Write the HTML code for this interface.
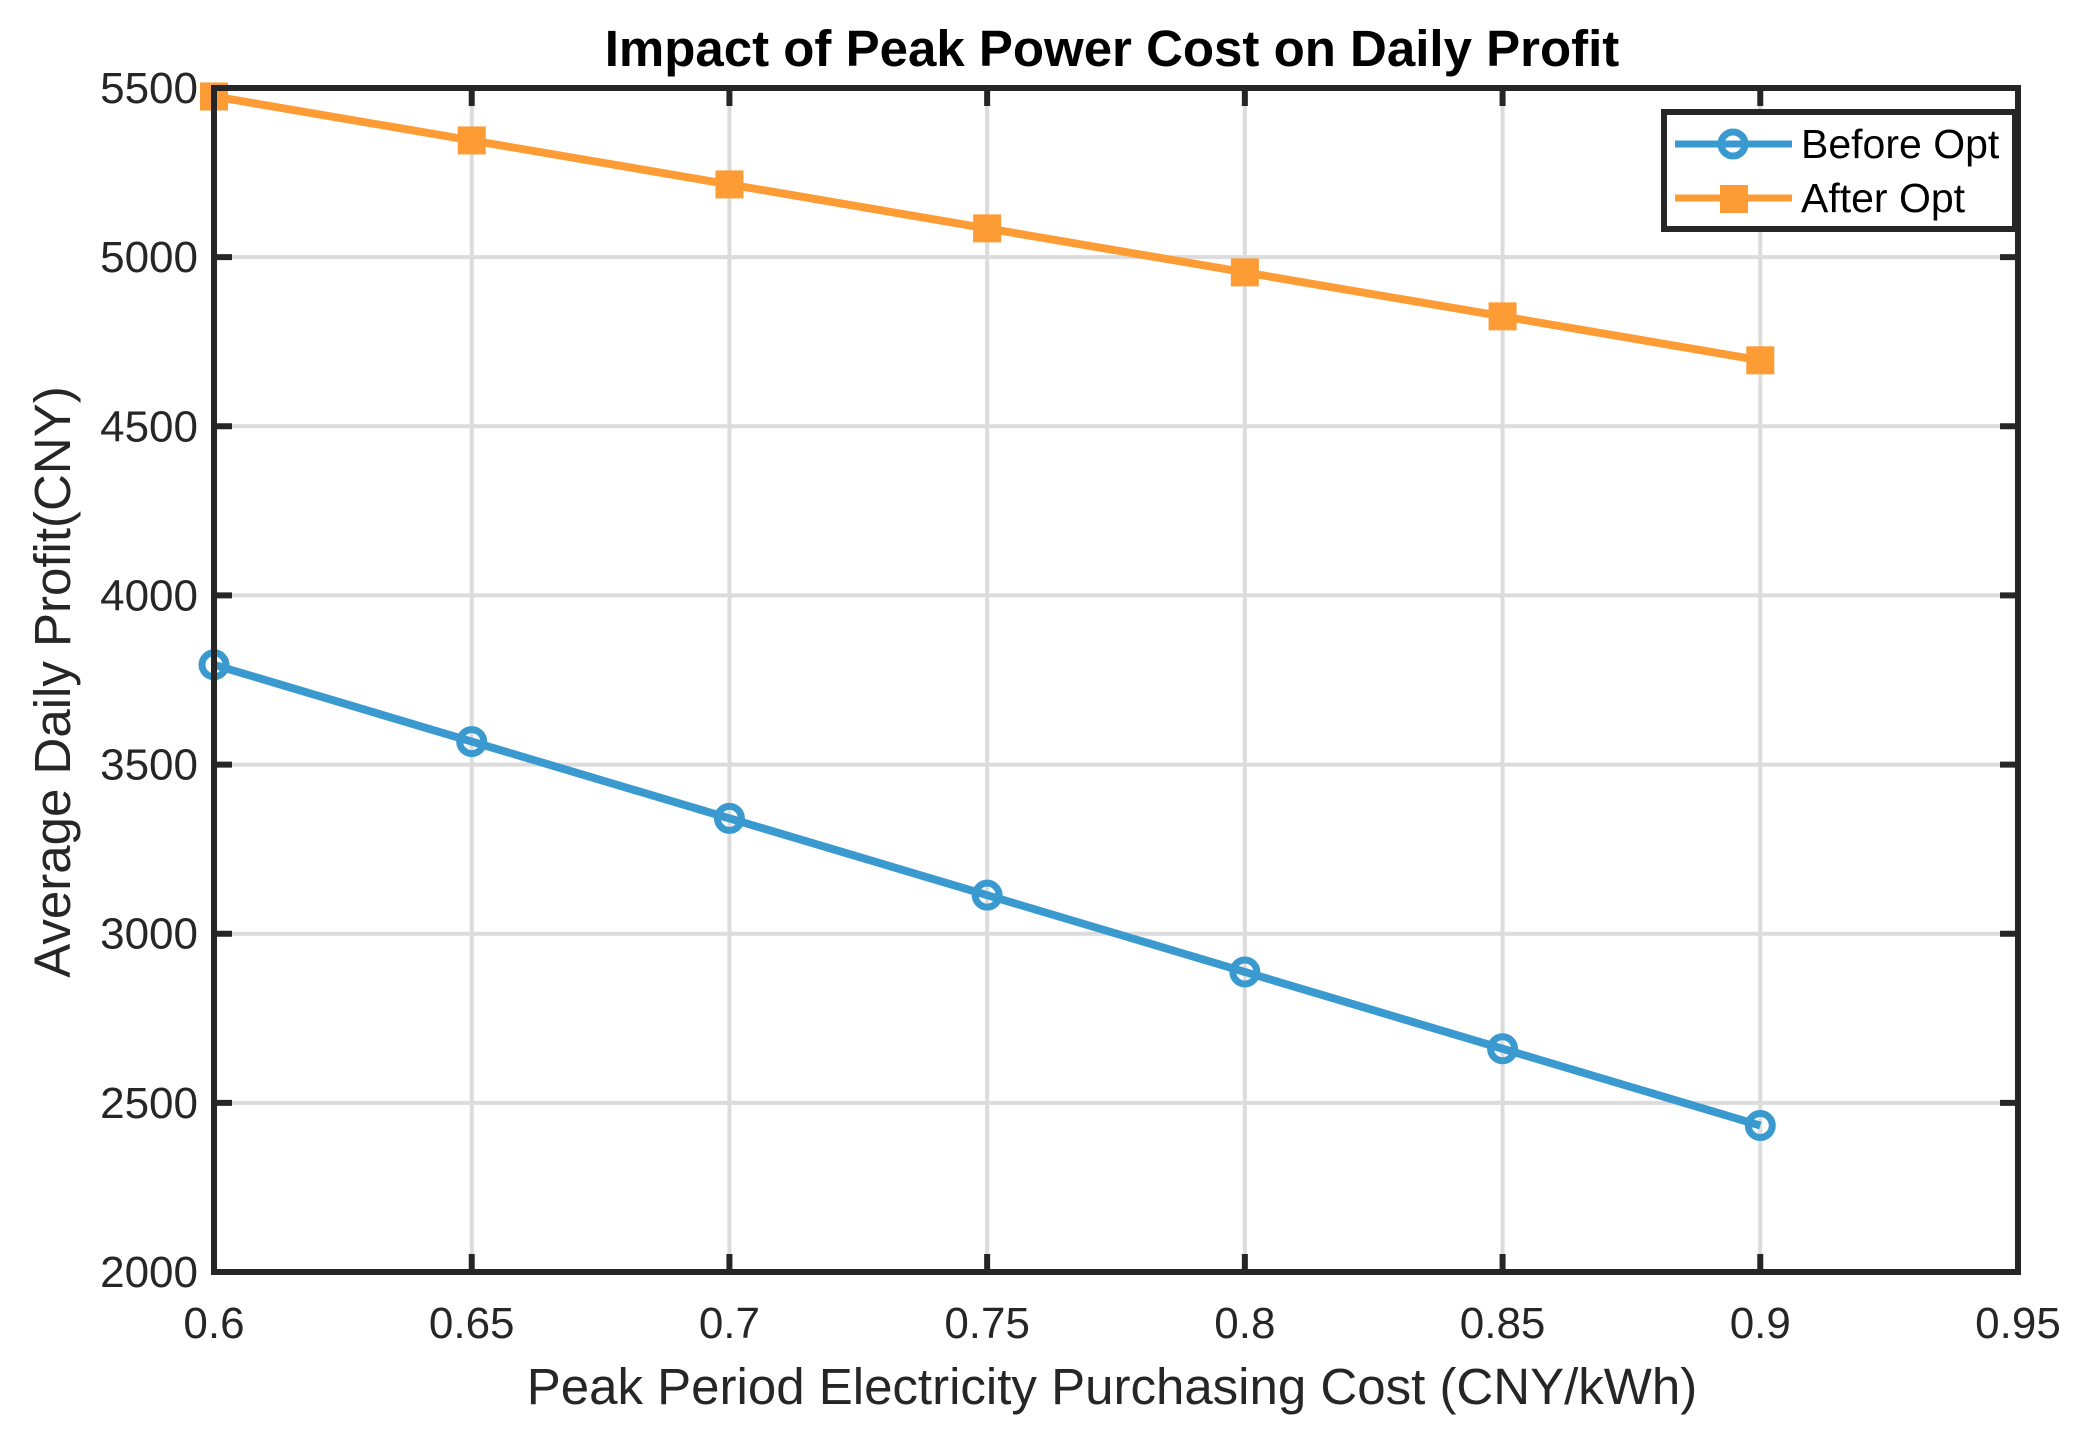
<!DOCTYPE html>
<html><head><meta charset="utf-8"><style>
html,body{margin:0;padding:0;background:#fff}
svg{display:block}
text{font-family:"Liberation Sans",Arial,sans-serif;fill:#262626}
</style></head><body>
<svg id="chart" width="2088" height="1442" viewBox="0 0 2088 1442" xmlns="http://www.w3.org/2000/svg">
<rect width="2088" height="1442" fill="#fff"/>
<g id="grid"></g>
<g id="series"></g>
<g id="axes"></g>
<text x="1112" y="66" text-anchor="middle" font-size="51" font-weight="bold" style="fill:#000">Impact of  Peak Power Cost on Daily Profit</text>
<text x="1112" y="1404" text-anchor="middle" font-size="51">Peak Period Electricity Purchasing Cost (CNY/kWh)</text>
<text transform="translate(70,682) rotate(-90)" text-anchor="middle" font-size="51">Average Daily Profit(CNY)</text>
<g>
<rect x="1664" y="112" width="351" height="117" fill="#fff" stroke="#262626" stroke-width="6"/>
<line x1="1675" y1="144" x2="1792" y2="144" stroke="#3a9ad0" stroke-width="7"/>
<circle cx="1733" cy="144" r="12" fill="none" stroke="#3a9ad0" stroke-width="7"/>
<text x="1801" y="158" font-size="41" style="fill:#000">Before Opt</text>
<line x1="1675" y1="198" x2="1792" y2="198" stroke="#fd9b35" stroke-width="7"/>
<rect x="1720" y="185" width="28" height="28" fill="#fd9b35"/>
<text x="1801" y="212" font-size="41" style="fill:#000">After Opt</text>
</g>
</svg>
<script>
const xValues=[0.6,0.65,0.7,0.75,0.8,0.85,0.9];
const beforeOpt=[3795,3568,3341,3114,2887,2660,2433];
const afterOpt=[5475,5345,5215,5085,4955,4825,4695];
const xTicks=[0.6,0.65,0.7,0.75,0.8,0.85,0.9,0.95];
const xTickLabels=["0.6","0.65","0.7","0.75","0.8","0.85","0.9","0.95"];
const yTicks=[2000,2500,3000,3500,4000,4500,5000,5500];
const L=214,R=2018,T=88,B=1272;
const xs=v=>L+(v-0.6)/(0.95-0.6)*(R-L);
const ys=v=>B-(v-2000)/(5500-2000)*(B-T);
const NS="http://www.w3.org/2000/svg";
function mk(p,tag,a){const e=document.createElementNS(NS,tag);for(const k in a)e.setAttribute(k,a[k]);p.appendChild(e);return e;}
const grid=document.getElementById('grid'),axes=document.getElementById('axes'),ser=document.getElementById('series');
xTicks.forEach((t,i)=>{const x=xs(t);
 const g=mk(grid,'line',{x1:x,y1:T,x2:x,y2:B,stroke:'#dcdcdc','stroke-width':4});
 
 
 mk(axes,'line',{x1:x,y1:B,x2:x,y2:B-18,stroke:'#262626','stroke-width':6});
 mk(axes,'line',{x1:x,y1:T,x2:x,y2:T+18,stroke:'#262626','stroke-width':6});
 const tx=mk(axes,'text',{x:x,y:1338,'text-anchor':'middle','font-size':44});
 tx.textContent=xTickLabels[i];
 
 
});
yTicks.forEach(t=>{const y=ys(t);
 const g=mk(grid,'line',{x1:L,y1:y,x2:R,y2:y,stroke:'#dcdcdc','stroke-width':4});
 
 
 mk(axes,'line',{x1:L,y1:y,x2:L+18,y2:y,stroke:'#262626','stroke-width':6});
 mk(axes,'line',{x1:R,y1:y,x2:R-18,y2:y,stroke:'#262626','stroke-width':6});
 const tx=mk(axes,'text',{x:198,y:y+15,'text-anchor':'end','font-size':44});
 tx.textContent=String(t);
 
 
});
const frame=mk(axes,'rect',{x:L,y:T,width:R-L,height:B-T,fill:'none',stroke:'#262626','stroke-width':6});


function line(vals,color,name){
 const pts=vals.map((v,i)=>xs(xValues[i])+','+ys(v)).join(' ');
 const pl=mk(ser,'polyline',{points:pts,fill:'none',stroke:color,'stroke-width':8,'stroke-linejoin':'round'});
 
 
}
line(beforeOpt,'#3a9ad0','before-opt');
line(afterOpt,'#fd9b35','after-opt');
beforeOpt.forEach((v,i)=>{
 const c=mk(ser,'circle',{cx:xs(xValues[i]),cy:ys(v),r:12,fill:'none',stroke:'#3a9ad0','stroke-width':7});
 
 
});
afterOpt.forEach((v,i)=>{
 const r=mk(ser,'rect',{x:xs(xValues[i])-14,y:ys(v)-14,width:28,height:28,fill:'#fd9b35'});
 
 
});
</script>
</body></html>
